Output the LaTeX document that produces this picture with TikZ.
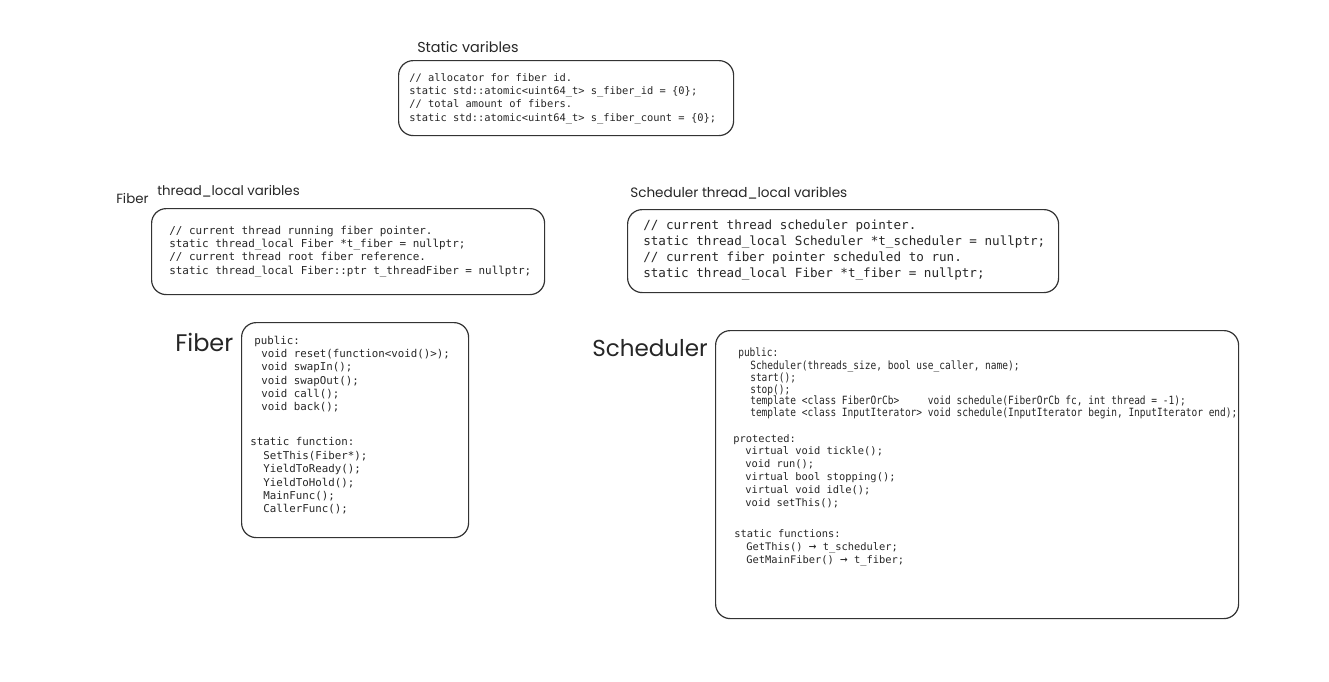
\documentclass[tikz,border=0pt]{standalone}
\usepackage{fontspec}
\setmonofont{DejaVu Sans Mono}
\newfontfamily\handfont{Poppins}
\newfontfamily\narrowmono[FakeStretch=0.84]{DejaVu Sans Mono}
\usetikzlibrary{positioning}

\newcommand{\codearrow}{{\fontsize{9.5}{9.75}\selectfont →}}

\tikzset{
  card/.style={draw=black!80, line width=0.9pt, rounded corners=11pt, inner sep=0pt, anchor=north west},
  code/.style={anchor=north west, inner sep=0pt, align=left, text=black!85},
  title/.style={anchor=west, inner sep=0pt, text=black!85},
}

\begin{document}
\begin{tikzpicture}[x=0.75pt, y=-0.75pt]
        \useasboundingbox (0,0) rectangle (1329,682);
        \node[card, minimum width=251.25pt, minimum height=56.25pt] (staticbox) at (398,60) {};
        \node[card, minimum width=294.75pt, minimum height=64.5pt] (fibertl) at (151,208) {};
        \node[card, minimum width=323.25pt, minimum height=62.25pt] (schedtl) at (627,209) {};
        \node[card, minimum width=170.25pt, minimum height=161.25pt] (fiberbox) at (241,322) {};
        \node[card, minimum width=392.25pt, minimum height=216pt] (schedbox) at (715,330) {};

        \node[title, font=\handfont\fontsize{10.8}{12}\selectfont] (statictitle) at (417,47) {Static varibles};
        \node[title, font=\handfont\fontsize{10}{12}\selectfont] (fibertag) at (116,198) {Fiber};
        \node[title, font=\handfont\fontsize{10}{12}\selectfont] (fibertltitle) at (157,191) {thread\_local varibles};
        \node[title, font=\handfont\fontsize{10.2}{12}\selectfont] (schedtltitle) at (630,193) {Scheduler thread\_local varibles};
        \node[title, font=\handfont\fontsize{18}{20}\selectfont] (fibertitle) at (175,342) {Fiber};
        \node[title, font=\handfont\fontsize{17.3}{20}\selectfont] (schedtitle) at (592,348) {Scheduler};

        \node[code, font=\ttfamily\fontsize{7.8}{10}\selectfont] (staticcode) at (409,73) {%
// allocator for fiber id.\\
static std::atomic<uint64\_t> s\_fiber\_id = \{0\};\\
// total amount of fibers.\\
static std::atomic<uint64\_t> s\_fiber\_count = \{0\};};

        \node[code, font=\ttfamily\fontsize{8.2}{10}\selectfont] (fibertlcode) at (169,225.5) {%
// current thread running fiber pointer.\\
static thread\_local Fiber *t\_fiber = nullptr;\\
// current thread root fiber reference.\\
static thread\_local Fiber::ptr t\_threadFiber = nullptr;};

        \node[code, font=\ttfamily\fontsize{9.45}{11.8}\selectfont] (schedtlcode) at (643,220) {%
// current thread scheduler pointer.\\
static thread\_local Scheduler *t\_scheduler = nullptr;\\
// current fiber pointer scheduled to run.\\
static thread\_local Fiber *t\_fiber = nullptr;};

        \node[code, font=\ttfamily\fontsize{8.1}{10}\selectfont] (fiberpub) at (254,336) {public:};
        \node[code, font=\ttfamily\fontsize{8.1}{10}\selectfont] (fiberpubitems) at (261,349) {%
void reset(function<void()>);\\
void swapIn();\\
void swapOut();\\
void call();\\
void back();};
        \node[code, font=\ttfamily\fontsize{8.1}{10}\selectfont] (fiberstatic) at (250,437) {static function:};
        \node[code, font=\ttfamily\fontsize{8.1}{10}\selectfont] (fiberstaticitems) at (263,451) {%
SetThis(Fiber*);\\
YieldToReady();\\
YieldToHold();\\
MainFunc();\\
CallerFunc();};

        \node[code, font=\narrowmono\fontsize{8.5}{8.85}\selectfont] (schedpub) at (738,347.5) {public:};
        \node[code, font=\narrowmono\fontsize{8.5}{8.85}\selectfont] (schedpubitems) at (750,360.5) {%
Scheduler(threads\_size, bool use\_caller, name);\\
start();\\
stop();\\
template <class FiberOrCb>\ \ \ \ \ void schedule(FiberOrCb fc, int thread = -1);\\
template <class InputIterator> void schedule(InputIterator begin, InputIterator end);};
        \node[code, font=\ttfamily\fontsize{7.8}{9.75}\selectfont] (schedprot) at (733,434) {protected:};
        \node[code, font=\ttfamily\fontsize{7.8}{9.75}\selectfont] (schedprotitems) at (745,446) {%
virtual void tickle();\\
void run();\\
virtual bool stopping();\\
virtual void idle();\\
void setThis();};
        \node[code, font=\ttfamily\fontsize{7.8}{9.75}\selectfont] (schedstatic) at (734,529) {static functions:};
        \node[code, font=\ttfamily\fontsize{7.8}{9.75}\selectfont] (schedstaticitems) at (746,542) {%
GetThis() \codearrow{} t\_scheduler;\\
GetMainFiber() \codearrow{} t\_fiber;};
\end{tikzpicture}
\end{document}
